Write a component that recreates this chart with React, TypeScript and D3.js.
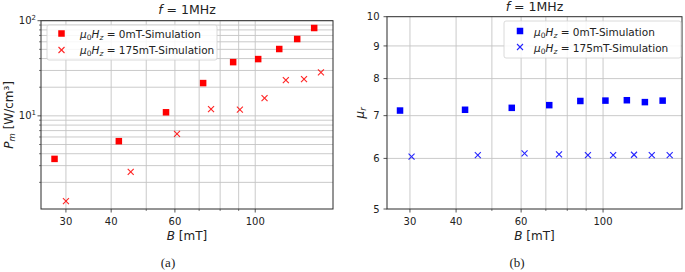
import React from "react";
import * as d3 from "d3";

// ---- data ----
const bSquaresA = [27.9, 42.0, 56.7, 71.8, 86.9, 101.9, 116.5, 130.6, 145.5];
const pSquares = [3.53, 5.42, 10.9, 22.1, 36.7, 39.5, 50.4, 64.2, 83.8];
const bCrossesA = [30.0, 45.3, 60.8, 75.5, 90.7, 106.1, 121.5, 136.4, 151.9];
const pCrosses = [1.27, 2.58, 6.47, 11.8, 11.6, 15.4, 23.8, 24.3, 28.6];

const bSquaresB = [28.2, 42.3, 56.6, 71.5, 86.8, 101.5, 116.0, 129.8, 145.0];
const muSquares = [7.13, 7.15, 7.2, 7.27, 7.38, 7.39, 7.4, 7.35, 7.39];
const bCrossesB = [30.3, 45.8, 61.3, 76.0, 91.0, 106.5, 121.3, 135.5, 151.5];
const muCrosses = [6.04, 6.07, 6.11, 6.09, 6.07, 6.07, 6.08, 6.07, 6.07];

const xMajorTicks = [30, 40, 60, 100];
const xMinorTicks = [50, 70, 80, 90];
const pMajorTicks = [10, 100];
const pMinorTicks = [2, 3, 4, 5, 6, 7, 8, 9, 20, 30, 40, 50, 60, 70, 80, 90];
const muTicks = [5, 6, 7, 8, 9, 10];

const FONT = "'DejaVu Sans', sans-serif";
const GRID = "#c4c4c4";
const AX = "#2a2a2a";

function Square({ x, y, color, s = 6.5 }) {
  return <rect x={x - s / 2} y={y - s / 2} width={s} height={s} fill={color} />;
}
function Cross({ x, y, color, s = 3 }) {
  return (
    <g stroke={color} strokeWidth={1.1} opacity={0.85}>
      <line x1={x - s} y1={y - s} x2={x + s} y2={y + s} />
      <line x1={x - s} y1={y + s} x2={x + s} y2={y - s} />
    </g>
  );
}

function LegendText({ x, y, value }) {
  return (
    <text x={x} y={y} fontSize={10.5} fontFamily={FONT} fill="#222">
      <tspan fontStyle="italic">μ</tspan>
      <tspan fontSize={7.5} dy={2}>0</tspan>
      <tspan fontStyle="italic" dy={-2}>H</tspan>
      <tspan fontStyle="italic" fontSize={7.5} dy={2}>z</tspan>
      <tspan dy={-2}>{" = " + value + "mT-Simulation"}</tspan>
    </text>
  );
}

function XAxis({ x, y0, yTop }) {
  return (
    <g>
      {xMajorTicks.concat(xMinorTicks).map((t) => (
        <line key={"gx" + t} x1={x(t)} x2={x(t)} y1={yTop} y2={y0} stroke={GRID} strokeWidth={0.9} />
      ))}
      {xMajorTicks.map((t) => (
        <g key={"tx" + t}>
          <line x1={x(t)} x2={x(t)} y1={y0} y2={y0 + 3.5} stroke={AX} strokeWidth={0.8} />
          <text x={x(t)} y={y0 + 15.5} textAnchor="middle" fontSize={10} fontFamily={FONT} fill="#222">{t}</text>
        </g>
      ))}
      {xMinorTicks.map((t) => (
        <line key={"mx" + t} x1={x(t)} x2={x(t)} y1={y0} y2={y0 + 2} stroke={AX} strokeWidth={0.6} />
      ))}
    </g>
  );
}

export default function App() {
  // Panel (a)
  const xa = d3.scaleLog().domain([25.6, 164]).range([41, 333]);
  const ya = d3.scaleLog().domain([1.05, 100]).range([209, 20.7]);
  // Panel (b)
  const xb = d3.scaleLog().domain([26, 163.6]).range([387, 682]);
  const yb = d3.scaleLog().domain([5, 10]).range([209, 16.7]);

  const [ax0, ax1] = xa.range();
  const [ay0, ay1] = ya.range();
  const [bx0, bx1] = xb.range();
  const [by0, by1] = yb.range();

  return (
    <svg width={685} height={272} style={{ position: "absolute", left: 0, top: 0, background: "#fff" }}>
      {/* ---------- Panel (a) ---------- */}
      <g>
        {pMinorTicks.concat(pMajorTicks).map((t) => (
          <line key={"gy" + t} x1={ax0} x2={ax1} y1={ya(t)} y2={ya(t)} stroke={GRID} strokeWidth={0.9} />
        ))}
        <XAxis x={xa} y0={ay0} yTop={ay1} />
        {pMinorTicks.map((t) => (
          <line key={"my" + t} x1={ax0 - 2} x2={ax0} y1={ya(t)} y2={ya(t)} stroke={AX} strokeWidth={0.6} />
        ))}
        {pMajorTicks.map((t, i) => (
          <g key={"ty" + t}>
            <line x1={ax0 - 3.5} x2={ax0} y1={ya(t)} y2={ya(t)} stroke={AX} strokeWidth={0.8} />
            <text x={ax0 - 5} y={ya(t) + 3.5} textAnchor="end" fontSize={10} fontFamily={FONT} fill="#222">
              10<tspan fontSize={7} dy={-4}>{i + 1}</tspan>
            </text>
          </g>
        ))}
        {bSquaresA.map((b, i) => (
          <Square key={"sa" + i} x={xa(b)} y={ya(pSquares[i])} color="#ff0000" />
        ))}
        {bCrossesA.map((b, i) => (
          <Cross key={"ca" + i} x={xa(b)} y={ya(pCrosses[i])} color="#ff0000" />
        ))}
        <rect x={ax0} y={ay1} width={ax1 - ax0} height={ay0 - ay1} fill="none" stroke={AX} strokeWidth={1} />
        {/* legend */}
        <rect x={47} y={25} width={170} height={35} rx={2} fill="#fff" fillOpacity={0.85} stroke="#d0d0d0" strokeWidth={0.8} />
        <Square x={61.5} y={33.5} color="#ff0000" />
        <Cross x={61.5} y={50} color="#ff0000" />
        <LegendText x={80} y={37.5} value="0" />
        <LegendText x={80} y={54} value="175" />
        <text x={(ax0 + ax1) / 2} y={14} textAnchor="middle" fontSize={12.5} fontFamily={FONT} fill="#222">
          <tspan fontStyle="italic">f</tspan> = 1MHz
        </text>
        <text x={(ax0 + ax1) / 2} y={240} textAnchor="middle" fontSize={12} fontFamily={FONT} fill="#222">
          <tspan fontStyle="italic">B</tspan> [mT]
        </text>
        <text transform={`translate(13,${(ay0 + ay1) / 2}) rotate(-90)`} textAnchor="middle" fontSize={12} fontFamily={FONT} fill="#222">
          <tspan fontStyle="italic">P</tspan>
          <tspan fontStyle="italic" fontSize={8.5} dy={2}>m</tspan>
          <tspan dy={-2}> [W/cm³]</tspan>
        </text>
        <text x={168} y={267} textAnchor="middle" fontSize={13} fontFamily="'Liberation Serif', serif" fill="#222">(a)</text>
      </g>

      {/* ---------- Panel (b) ---------- */}
      <g>
        {[6, 7, 8, 9].map((t) => (
          <line key={"gyb" + t} x1={bx0} x2={bx1} y1={yb(t)} y2={yb(t)} stroke={GRID} strokeWidth={0.9} />
        ))}
        <XAxis x={xb} y0={by0} yTop={by1} />
        {muTicks.map((t) => (
          <g key={"tyb" + t}>
            <line x1={bx0 - 3.5} x2={bx0} y1={yb(t)} y2={yb(t)} stroke={AX} strokeWidth={0.8} />
            <text x={bx0 - 7.5} y={yb(t) + 3.6} textAnchor="end" fontSize={10} fontFamily={FONT} fill="#222">{t}</text>
          </g>
        ))}
        {bSquaresB.map((b, i) => (
          <Square key={"sb" + i} x={xb(b)} y={yb(muSquares[i])} color="#0000ff" />
        ))}
        {bCrossesB.map((b, i) => (
          <Cross key={"cb" + i} x={xb(b)} y={yb(muCrosses[i])} color="#0000ff" />
        ))}
        <rect x={bx0} y={by1} width={bx1 - bx0} height={by0 - by1} fill="none" stroke={AX} strokeWidth={1} />
        {/* legend */}
        <rect x={504} y={21} width={177} height={37} rx={2} fill="#fff" fillOpacity={0.85} stroke="#d0d0d0" strokeWidth={0.8} />
        <Square x={520} y={31} color="#0000ff" />
        <Cross x={520} y={47} color="#0000ff" />
        <LegendText x={534} y={35.5} value="0" />
        <LegendText x={534} y={51.5} value="175" />
        <text x={(bx0 + bx1) / 2} y={11} textAnchor="middle" fontSize={12.5} fontFamily={FONT} fill="#222">
          <tspan fontStyle="italic">f</tspan> = 1MHz
        </text>
        <text x={(bx0 + bx1) / 2} y={240} textAnchor="middle" fontSize={12} fontFamily={FONT} fill="#222">
          <tspan fontStyle="italic">B</tspan> [mT]
        </text>
        <text transform={`translate(364,${(by0 + by1) / 2}) rotate(-90)`} textAnchor="middle" fontSize={12} fontFamily={FONT} fill="#222">
          <tspan fontStyle="italic">μ</tspan>
          <tspan fontStyle="italic" fontSize={8.5} dy={2}>r</tspan>
        </text>
        <text x={517} y={267} textAnchor="middle" fontSize={13} fontFamily="'Liberation Serif', serif" fill="#222">(b)</text>
      </g>
    </svg>
  );
}
